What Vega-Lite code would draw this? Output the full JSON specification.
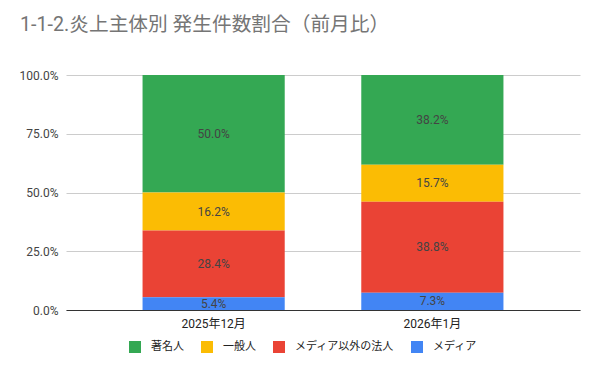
{
  "$schema": "https://vega.github.io/schema/vega-lite/v6.json",
  "width": 514,
  "height": 235,
  "autosize": {"type": "none"},
  "padding": {"left": 66, "top": 75, "right": 20, "bottom": 61},
  "background": "white",
  "config": {
    "font": "Roboto, Noto Sans CJK JP, sans-serif",
    "view": {"stroke": null}
  },
  "title": {
    "text": "1-1-2.炎上主体別 発生件数割合（前月比）",
    "anchor": "start",
    "frame": "group",
    "dx": -46,
    "offset": 34,
    "fontSize": 19.7,
    "fontWeight": "normal",
    "color": "#757575",
    "font": "Roboto, Noto Sans CJK JP, sans-serif"
  },
  "data": {
    "values": [
      {"month": "2025年12月", "category": "著名人", "order": 4, "value": 0.500},
      {"month": "2025年12月", "category": "一般人", "order": 3, "value": 0.162},
      {"month": "2025年12月", "category": "メディア以外の法人", "order": 2, "value": 0.284},
      {"month": "2025年12月", "category": "メディア", "order": 1, "value": 0.054},
      {"month": "2026年1月", "category": "著名人", "order": 4, "value": 0.382},
      {"month": "2026年1月", "category": "一般人", "order": 3, "value": 0.157},
      {"month": "2026年1月", "category": "メディア以外の法人", "order": 2, "value": 0.388},
      {"month": "2026年1月", "category": "メディア", "order": 1, "value": 0.073}
    ]
  },
  "transform": [
    {"stack": "value", "groupby": ["month"], "sort": [{"field": "order", "order": "ascending"}], "as": ["y0", "y1"]},
    {"calculate": "(datum.y0 + datum.y1) / 2", "as": "ymid"}
  ],
  "encoding": {
    "x": {
      "field": "month",
      "type": "nominal",
      "sort": null,
      "scale": {"paddingInner": 0.35, "paddingOuter": 0.35},
      "axis": {
        "title": null,
        "labelAngle": 0,
        "labelFontSize": 12,
        "labelColor": "#222222",
        "labelPadding": 8,
        "ticks": false,
        "domainColor": "#333333",
        "domainWidth": 1
      }
    }
  },
  "layer": [
    {
      "mark": {"type": "bar"},
      "encoding": {
        "y": {
          "field": "y0",
          "type": "quantitative",
          "scale": {"domain": [0, 1]},
          "axis": {
            "title": null,
            "format": ".1%",
            "values": [0, 0.25, 0.5, 0.75, 1],
            "labelFontSize": 12,
            "labelColor": "#444444",
            "labelPadding": 8,
            "ticks": false,
            "domain": false,
            "gridColor": "#cccccc"
          }
        },
        "y2": {"field": "y1"},
        "color": {
          "field": "category",
          "type": "nominal",
          "sort": ["著名人", "一般人", "メディア以外の法人", "メディア"],
          "scale": {
            "domain": ["著名人", "一般人", "メディア以外の法人", "メディア"],
            "range": ["#34A853", "#FBBC04", "#EA4335", "#4285F4"]
          },
          "legend": {
            "title": null,
            "orient": "none",
            "legendX": 63,
            "legendY": 266,
            "direction": "horizontal",
            "symbolType": "square",
            "symbolSize": 144,
            "symbolStrokeWidth": 0,
            "labelFontSize": 11,
            "labelColor": "#222222",
            "labelOffset": 10,
            "columnPadding": 17
          }
        }
      }
    },
    {
      "mark": {"type": "text", "fontSize": 12, "color": "#444444", "baseline": "middle"},
      "encoding": {
        "y": {"field": "ymid", "type": "quantitative"},
        "text": {"field": "value", "type": "quantitative", "format": ".1%"}
      }
    }
  ]
}
